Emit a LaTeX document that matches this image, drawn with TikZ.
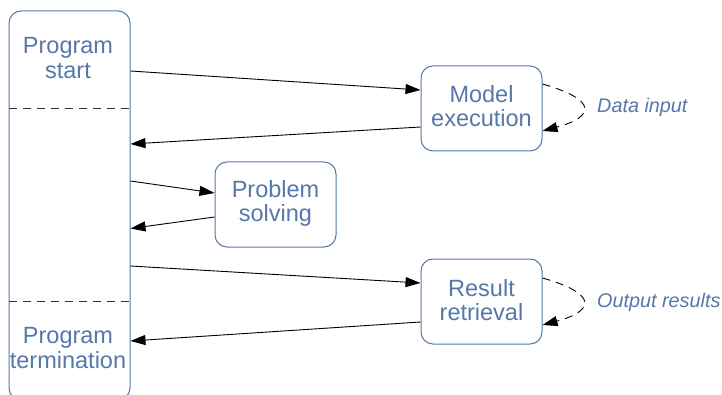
\documentclass[tikz,border=0pt]{standalone}
\usepackage{fontspec}
\setmainfont{Liberation Sans}
\usetikzlibrary{arrows.meta}
\definecolor{bl}{RGB}{86,120,168}
\tikzset{
  box/.style={draw=bl, line width=1pt, rounded corners=12pt, minimum width=121pt, minimum height=85pt, inner sep=0pt},
  btext/.style={text=bl, align=center, inner sep=0pt, font=\fontsize{23.5}{24.5}\selectfont},
  ltext/.style={text=bl, anchor=west, inner sep=0pt, font=\fontsize{19.8}{22}\selectfont\itshape},
  arr/.style={draw=black, line width=0.9pt, -{Triangle[length=15pt,width=10pt]}},
  loop/.style={draw=black, line width=0.9pt, dash pattern=on 8pt off 6pt, -{Triangle[length=15pt,width=10pt]}},
  sep/.style={draw=black!80, line width=0.9pt, dash pattern=on 8pt off 6pt}
}
\begin{document}
\begin{tikzpicture}[x=1pt,y=-1pt]
\fill[white] (0,0) rectangle (722,395);
\clip (0,0) rectangle (722,395);
\node[draw=bl, line width=1pt, rounded corners=12pt, minimum width=121pt, minimum height=389pt, inner sep=0pt] (tall) at (69.5,205.5) {};
\draw[sep] (tall.west |- 0,108) coordinate (s1) -- (tall.east |- s1);
\draw[sep] (tall.west |- 0,301) coordinate (s2) -- (tall.east |- s2);
\node[btext] (ps) at (68,58) {Program\\start};
\node[btext] (pt) at (68,348) {Program\\termination};
\node[box] (model) at (481.5,108.5) {};
\node[btext] (mt) at (481.5,106) {Model\\execution};
\node[box] (prob) at (275.5,204.5) {};
\node[btext] (pbt) at (275.5,203.5) {Problem\\solving};
\node[box] (res) at (481.5,301.5) {};
\node[btext] (rt) at (481.5,300) {Result\\retrieval};
\node[ltext] (di) at (597,107) {Data input};
\node[ltext] (orr) at (597,302) {Output results};
\draw[arr] ([yshift=134.5pt]tall.east) -- ([yshift=18.5pt]model.west);
\draw[arr] ([yshift=-18.5pt]model.west) -- ([yshift=61.5pt]tall.east);
\draw[arr] ([yshift=24.5pt]tall.east) -- ([yshift=11.5pt]prob.west);
\draw[arr] ([yshift=-12.5pt]prob.west) -- ([yshift=-23pt]tall.east);
\draw[arr] ([yshift=-60.5pt]tall.east) -- ([yshift=18.5pt]res.west);
\draw[arr] ([yshift=-20.5pt]res.west) -- ([yshift=-135.5pt]tall.east);
\draw[loop] ([yshift=24.5pt]model.east) .. controls +(56,16) and +(52,-14) .. ([yshift=-22.5pt]model.east);
\draw[loop] ([yshift=23.5pt]res.east) .. controls +(56,16) and +(52,-14) .. ([yshift=-23.5pt]res.east);
\end{tikzpicture}
\end{document}
